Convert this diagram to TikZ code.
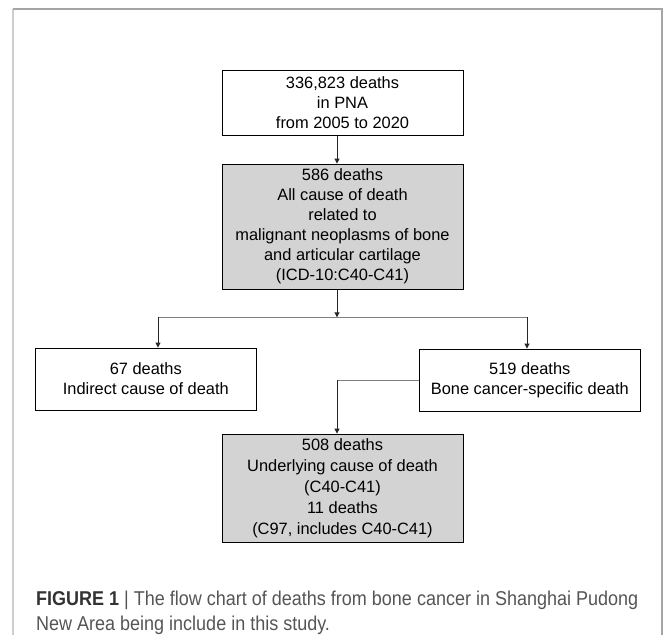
\documentclass[tikz,border=0pt]{standalone}
\usepackage{fontspec}
\setmainfont{Liberation Sans}
\newfontfamily\capfont[FakeStretch=0.9]{Liberation Sans}
\usetikzlibrary{arrows.meta}
\definecolor{boxgray}{RGB}{211,211,211}
\definecolor{framegray}{RGB}{165,165,165}
\definecolor{capgray}{RGB}{85,85,85}

\begin{document}
\begin{tikzpicture}[x=1pt, y=-1pt,
  flowbox/.style={draw=black, line width=0.9pt, align=center, inner sep=0pt,
    font=\fontsize{16.4}{20}\selectfont},
  shaded/.style={flowbox, fill=boxgray},
  link/.style={line width=0.9pt, black!85},
  arrowlink/.style={link, -{Triangle[width=5pt,length=5pt]}}]
  \useasboundingbox (0,0) rectangle (663,635);
  % Figure frame (open at the bottom)
  \draw[framegray!55, line width=1.6pt] (12.7,635) -- (12.7,8.7);
  \draw[framegray, line width=1.6pt] (12.7,8.7) -- (662,8.7) -- (662,635);
  % Boxes of the flow chart
  \node[flowbox, minimum width=241pt, minimum height=65.7pt] (total) at (342.5,102.8)
    {336,823 deaths\\in PNA\\from 2005 to 2020};
  \node[shaded, minimum width=241pt, minimum height=125.3pt] (bone) at (342.5,226.7)
    {586 deaths\\All cause of death\\related to\\malignant neoplasms of bone\\and articular cartilage\\(ICD-10:C40-C41)};
  \node[flowbox, minimum width=221.7pt, minimum height=62pt] (indirect) at (145.8,379)
    {67 deaths\\Indirect cause of death};
  \node[flowbox, minimum width=221.7pt, minimum height=62pt] (specific) at (529.8,380)
    {519 deaths\\Bone cancer-specific death};
  \node[shaded, minimum width=241pt, minimum height=108.3pt,
    font=\fontsize{16.4}{20.8}\selectfont] (under) at (342.5,488.2)
    {508 deaths\\Underlying cause of death\\(C40-C41)\\11 deaths\\(C97, includes C40-C41)};
  % Branch points
  \coordinate (spine) at (337,0);
  \coordinate (split) at (337,317.3);
  \coordinate (lsplit) at (158,317.3);
  \coordinate (rsplit) at (527,317.3);
  \coordinate (bend) at (specific.west -| spine);
  % Connectors
  \draw[arrowlink] (total.south -| spine) -- (bone.north -| spine);
  \draw[arrowlink] (bone.south -| spine) -- (split);
  \draw[link, gray] (lsplit) -- (rsplit);
  \draw[arrowlink] (lsplit) -- (lsplit |- indirect.north);
  \draw[arrowlink] (rsplit) -- (rsplit |- specific.north);
  \draw[link, gray] (specific.west) -- (bend);
  \draw[arrowlink] (bend) -- (under.north -| spine);
  % Caption
  \node[anchor=north west, inner sep=0pt, align=left, text=capgray,
    font=\capfont\fontsize{20}{25}\selectfont] (caption) at (36,590.6)
    {\textbf{\color{black!80}FIGURE 1} | The flow chart of deaths from bone cancer in Shanghai Pudong\\New Area being include in this study.};
\end{tikzpicture}
\end{document}
